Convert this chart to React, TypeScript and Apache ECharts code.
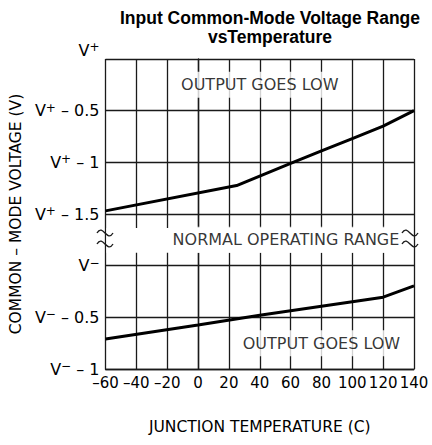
import React, { useEffect, useRef } from "react";
import * as echarts from "echarts";

const xTicks = [-60, -40, -20, 0, 20, 40, 60, 80, 100, 120, 140];
const yTickSigns = ["−", "−", "−", "+", "+", "+", "+"];
const yTickOffsets = ["1", "0.5", "", "1.5", "1", "0.5", ""];
const upperTemp = [-60, 25, 60, 80, 100, 120, 140];
const upperVal = [3.06, 3.55, 3.98, 4.22, 4.46, 4.7, 5.0];
const lowerTemp = [-60, 0, 40, 120, 140];
const lowerVal = [0.58, 0.85, 1.04, 1.39, 1.61];
const notes = [
  { text: "OUTPUT GOES LOW", t: 40, v: 5.5 },
  { text: "NORMAL OPERATING RANGE", t: 57, v: 2.5 },
  { text: "OUTPUT GOES LOW", t: 80, v: 0.5 },
];

const FONT = "'DejaVu Sans', sans-serif";
const INK = "#1a1a1a";

export default function App() {
  const ref = useRef<HTMLDivElement>(null);
  useEffect(() => {
    document.body.style.margin = "0";
    const chart = echarts.init(ref.current!, null, { renderer: "svg" });
    const squiggle = (cx: number, cy: number) => ({
      type: "bezierCurve",
      shape: {
        x1: cx - 8, y1: cy,
        x2: cx + 8, y2: cy,
        cpx1: cx - 2, cpy1: cy - 10,
        cpx2: cx + 2, cpy2: cy + 10,
      },
      style: { stroke: INK, lineWidth: 1.4, fill: null },
      z: 100,
    });
    chart.setOption({
      animation: false,
      backgroundColor: "#fff",
      title: {
        text: "Input Common-Mode Voltage Range\nvsTemperature",
        left: 265,
        top: 3,
        textAlign: "center",
        textStyle: {
          fontFamily: "'Liberation Sans', Arial, sans-serif",
          fontWeight: "bold",
          fontSize: 17.5,
          lineHeight: 19,
          color: "#000",
        },
      },
      grid: { left: 104, top: 59, width: 310, height: 310 },
      xAxis: {
        type: "value",
        min: -60,
        max: 140,
        interval: 20,
        axisLine: { show: true, lineStyle: { color: INK, width: 1.4 } },
        axisTick: { show: false },
        splitLine: { show: true, lineStyle: { color: INK, width: 1.3 } },
        axisLabel: {
          margin: 6,
          fontFamily: FONT,
          fontSize: 15,
          color: "#000",
          formatter: (v: number) => (xTicks.includes(v) ? String(v).replace("-", "–") : ""),
        },
        name: "JUNCTION TEMPERATURE (C)",
        nameLocation: "middle",
        nameGap: 50,
        nameTextStyle: { fontFamily: FONT, fontSize: 15.5, color: "#000" },
      },
      yAxis: {
        type: "value",
        min: 0,
        max: 6,
        interval: 1,
        axisLine: { show: true, lineStyle: { color: INK, width: 1.4 } },
        axisTick: { show: false },
        splitLine: { show: true, lineStyle: { color: INK, width: 1.3 } },
        axisLabel: {
          margin: 6,
          color: "#000",
          formatter: (v: number) => {
            const i = Math.round(v);
            const off = yTickOffsets[i];
            let s = "{v|V}{s|" + yTickSigns[i] + "}";
            if (off) s += "{v| – " + off + "}";
            if (i === 6) s += "\n{v| }";
            return s;
          },
          rich: {
            v: { fontFamily: FONT, fontSize: 16, lineHeight: 18, color: "#000" },
            s: { fontFamily: FONT, fontSize: 12, lineHeight: 18, color: "#000", verticalAlign: "top" },
          },
        },
        name: "COMMON – MODE VOLTAGE (V)",
        nameLocation: "middle",
        nameGap: 79,
        nameTextStyle: { fontFamily: FONT, fontSize: 15.5, color: "#000" },
      },
      series: [
        {
          type: "line",
          data: upperTemp.map((t, i) => [t, upperVal[i]]),
          showSymbol: false,
          lineStyle: { color: "#000", width: 3 },
          z: 5,
          markArea: {
            silent: true,
            itemStyle: { color: "#fff" },
            data: [[{ coord: [-59.4, 2.25] }, { coord: [139.4, 2.73] }]],
          },
        },
        {
          type: "line",
          data: lowerTemp.map((t, i) => [t, lowerVal[i]]),
          showSymbol: false,
          lineStyle: { color: "#000", width: 3 },
          z: 5,
        },
        {
          type: "scatter",
          symbolSize: 0,
          z: 6,
          data: notes.map((n) => ({ value: [n.t, n.v], name: n.text })),
          label: {
            show: true,
            position: "inside",
            formatter: (p: any) => p.name,
            fontFamily: FONT,
            fontSize: 16,
            color: "#000",
            backgroundColor: "#fff",
            padding: [5, 3],
          },
        },
      ],
      graphic: [
        squiggle(105, 233),
        squiggle(105, 244),
        squiggle(410, 233),
        squiggle(410, 244),
      ],
    });
    return () => chart.dispose();
  }, []);
  return <div ref={ref} style={{ width: 432, height: 445 }} />;
}
